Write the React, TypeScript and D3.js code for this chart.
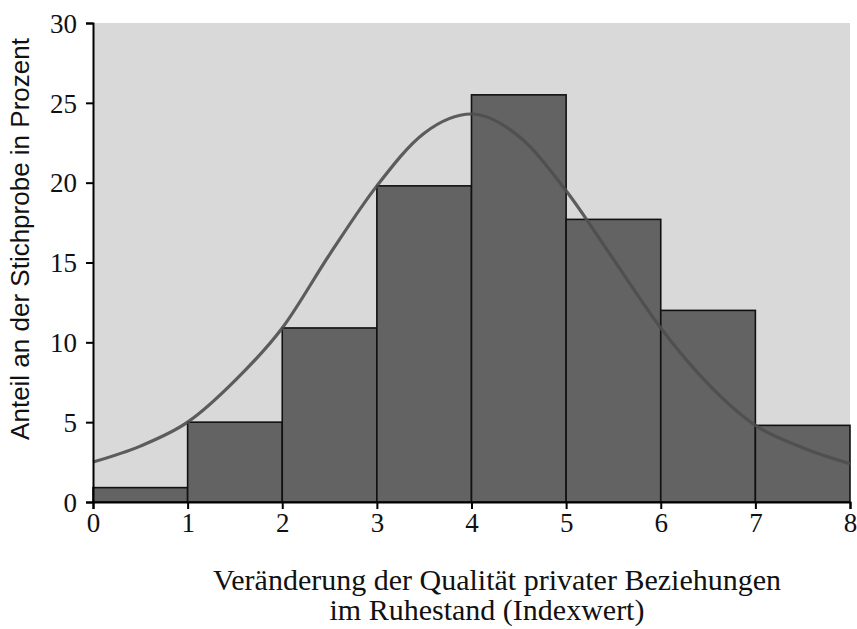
import React, { useEffect, useRef } from 'react';
import * as d3 from 'd3';

// histogram bins (lower edge) and share of sample in percent
const binStarts = [0, 1, 2, 3, 4, 5, 6, 7];
const binValues = [0.9, 5.0, 10.9, 19.8, 25.5, 17.7, 12.0, 4.8];

// fitted normal curve, every half index point
const curveX = [0, 0.5, 1, 1.5, 2, 2.5, 3, 3.5, 4, 4.5, 5, 5.5, 6, 6.5, 7, 7.5, 8];
const curveY = [2.5, 3.5, 5.0, 7.6, 10.9, 15.5, 19.8, 23.1, 24.3, 22.9, 19.5, 15.2, 10.9, 7.4, 4.8, 3.4, 2.4];

const xTicks = [0, 1, 2, 3, 4, 5, 6, 7, 8];
const yTicks = [0, 5, 10, 15, 20, 25, 30];

const W = 857;
const H = 629;

const App = () => {
  const ref = useRef<SVGSVGElement>(null);

  useEffect(() => {
    const svg = d3.select(ref.current);
    svg.selectAll('*').remove();

    const margin = { top: 23, right: 7, bottom: 127, left: 93 };
    const width = W - margin.left - margin.right;
    const height = H - margin.top - margin.bottom;

    const x = d3.scaleLinear().domain([0, 8]).range([0, width]);
    const y = d3.scaleLinear().domain([0, 30]).range([height, 0]);

    const g = svg.append('g').attr('transform', `translate(${margin.left},${margin.top})`);

    // plot background
    g.append('rect')
      .attr('x', 0)
      .attr('y', 0)
      .attr('width', width)
      .attr('height', height)
      .attr('fill', '#d9d9d9');

    // bars
    g.selectAll('rect.bar')
      .data(binStarts.map((s, i) => ({ s, v: binValues[i] })))
      .enter()
      .append('rect')
      .attr('class', 'bar')
      .attr('x', (d) => x(d.s))
      .attr('y', (d) => y(d.v))
      .attr('width', x(1) - x(0))
      .attr('height', (d) => height - y(d.v))
      .attr('fill', '#636363')
      .attr('stroke', '#111')
      .attr('stroke-width', 1.6);

    // normal curve
    const line = d3
      .line<number>()
      .x((d, i) => x(curveX[i]))
      .y((d) => y(d))
      .curve(d3.curveMonotoneX);

    g.append('path')
      .attr('d', line(curveY))
      .attr('fill', 'none')
      .attr('stroke', '#4e4e4e')
      .attr('stroke-opacity', 0.9)
      .attr('stroke-width', 3.2);

    // axes
    const xAxis = d3.axisBottom(x).tickValues(xTicks).tickSize(7).tickPadding(4).tickFormat(d3.format('d'));
    const yAxis = d3.axisLeft(y).tickValues(yTicks).tickSize(7).tickPadding(9).tickFormat(d3.format('d'));

    const gx = g.append('g').attr('transform', `translate(0,${height})`).call(xAxis);
    const gy = g.append('g').call(yAxis);

    [gx, gy].forEach((a) => {
      a.select('.domain').attr('stroke', '#000').attr('stroke-width', 2);
      a.selectAll('.tick line').attr('stroke', '#000').attr('stroke-width', 2);
      a.selectAll('.tick text')
        .attr('fill', '#111')
        .style('font-family', '"Liberation Serif", "Times New Roman", serif')
        .style('font-size', '27px');
    });
    gy.selectAll('.tick text').attr('dy', '0.34em');

    // y axis title
    svg
      .append('text')
      .attr('transform', `translate(29,${239}) rotate(-90)`)
      .attr('text-anchor', 'middle')
      .style('font-family', '"Liberation Sans", Arial, sans-serif')
      .style('font-size', '26px')
      .attr('fill', '#111')
      .text('Anteil an der Stichprobe in Prozent');

    // x axis title
    const xt = svg
      .append('text')
      .attr('text-anchor', 'middle')
      .style('font-family', '"Liberation Serif", "Times New Roman", serif')
      .style('font-size', '30px')
      .attr('fill', '#111');
    xt.append('tspan').attr('x', 497).attr('y', 590).text('Veränderung der Qualität privater Beziehungen');
    xt.append('tspan').attr('x', 487).attr('y', 620).text('im Ruhestand (Indexwert)');
  }, []);

  return (
    <svg
      ref={ref}
      width={W}
      height={H}
      style={{ position: 'absolute', left: 0, top: 0, background: '#fff' }}
    />
  );
};

export default App;
